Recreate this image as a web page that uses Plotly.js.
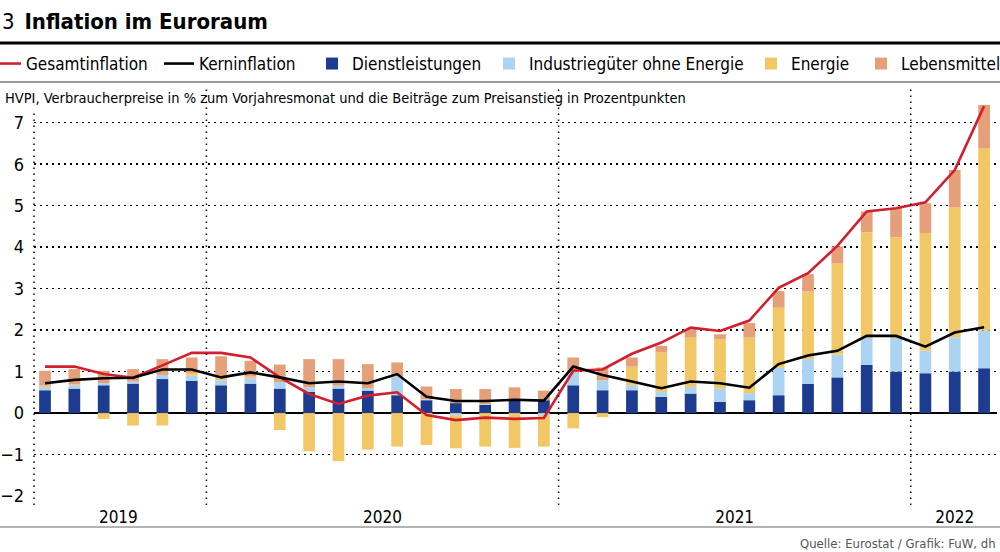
<!DOCTYPE html>
<html>
<head>
<meta charset="utf-8">
<script src="https://cdn.plot.ly/plotly-3.0.1.min.js"></script>
<style>
html,body{margin:0;padding:0;background:#fff;}
#chart{width:1000px;height:552px;}
</style>
</head>
<body>
<div id="chart"></div>
<script>
// Months (Jul 2019 – Mar 2022)
const months = [
  "2019-07","2019-08","2019-09","2019-10","2019-11","2019-12",
  "2020-01","2020-02","2020-03","2020-04","2020-05","2020-06",
  "2020-07","2020-08","2020-09","2020-10","2020-11","2020-12",
  "2021-01","2021-02","2021-03","2021-04","2021-05","2021-06",
  "2021-07","2021-08","2021-09","2021-10","2021-11","2021-12",
  "2022-01","2022-02","2022-03"
];
// Gesamtinflation (HVPI, % yoy)
const gesamt = [1.12,1.12,0.94,0.85,1.15,1.45, 1.45,1.34,0.86,0.46,0.22,0.42, 0.50,-0.05,-0.17,-0.11,-0.14,-0.12,
  1.02,1.05,1.43,1.70,2.06,1.98, 2.23,3.02,3.37,4.03,4.86,4.94, 5.08,5.86,7.40];
// Kerninflation
const kern = [0.72,0.80,0.84,0.85,1.05,1.05, 0.86,0.98,0.86,0.72,0.76,0.72, 0.94,0.39,0.29,0.29,0.32,0.30,
  1.12,0.92,0.76,0.60,0.76,0.72, 0.61,1.18,1.39,1.50,1.86,1.86, 1.60,1.94,2.07];
// Beiträge in Prozentpunkten
const dienst = [0.55,0.59,0.67,0.71,0.82,0.78, 0.67,0.71,0.59,0.51,0.59,0.54, 0.43,0.31,0.24,0.20,0.32,0.31,
  0.67,0.55,0.55,0.39,0.47,0.27, 0.31,0.43,0.70,0.86,1.16,1.00, 0.96,1.00,1.08];
const industrie = [0.08,0.08,0.05,0.05,0.10,0.12, 0.12,0.13,0.16,0.11,0.07,0.06, 0.45,0.02,-0.05,0.02,0.00,-0.05,
  0.31,0.24,0.12,0.12,0.16,0.32, 0.17,0.66,0.60,0.55,0.65,0.81, 0.55,0.83,0.91];
const energie = [0.03,0.02,-0.14,-0.30,-0.30,0.06, 0.10,0.04,-0.41,-0.92,-1.16,-0.88, -0.81,-0.77,-0.80,-0.81,-0.84,-0.76,
  -0.37,-0.10,0.45,0.95,1.19,1.19, 1.34,1.45,1.63,2.20,2.55,2.43, 2.83,3.13,4.40];
const lebensmittel = [0.36,0.37,0.30,0.30,0.38,0.38, 0.48,0.38,0.42,0.68,0.64,0.58, 0.34,0.31,0.34,0.36,0.30,0.23,
  0.36,0.31,0.22,0.16,0.20,0.12, 0.35,0.40,0.42,0.41,0.50,0.70, 0.72,0.90,1.04];
const yTicks = [-2,-1,0,1,2,3,4,5,6,7];

const FONT = "'Liberation Sans Narrow', 'DejaVu Sans Condensed', 'Arial Narrow', sans-serif";
const idx = months.map((m,i)=>i);

// year tick positions (centre of each year's months) and separators
const years = [...new Set(months.map(m=>m.slice(0,4)))];
const yearCenters = years.map(y=>{
  const ii = idx.filter(i=>months[i].startsWith(y));
  return (ii[0]+ii[ii.length-1])/2;
});
const separators = idx.filter(i=>i>0 && months[i].endsWith("-01")).map(i=>i-0.5);

const W=1000,H=552, mL=34, mR=3, mT=102, mB=56;
const plotH = H-mT-mB, plotW = W-mL-mR;
const py = px => (H-mB-px)/plotH;   // pixel y -> paper y
const pxX = px => (px-mL)/plotW;    // pixel x -> paper x

const DOT = "1.5px,4.5px";

function bar(name, y, color, leg){
  return {type:'bar', name, x:idx, y, marker:{color, line:{width:0}}, width:0.4,
    legend:leg, hoverinfo:'skip'};
}
const traces = [
  bar('Dienstleistungen', dienst, '#1d3c8f', 'legend3'),
  bar('Industriegüter ohne Energie', industrie, '#acd4f2', 'legend4'),
  bar('Energie', energie, '#f2c866', 'legend5'),
  bar('Lebensmittel', lebensmittel, '#e6a079', 'legend6'),
  {type:'scatter', mode:'lines', name:'Gesamtinflation', x:idx, y:gesamt,
    line:{color:'#d11f2e', width:2.6}, legend:'legend', hoverinfo:'skip'},
  {type:'scatter', mode:'lines', name:'Kerninflation', x:idx, y:kern,
    line:{color:'#000000', width:2.6}, legend:'legend2', hoverinfo:'skip'}
];

const shapes = [
  {type:'line', xref:'paper', yref:'paper', x0:pxX(0), x1:pxX(1000), y0:py(43), y1:py(43), line:{color:'#000', width:3}},
  {type:'line', xref:'paper', yref:'paper', x0:pxX(0), x1:pxX(1000), y0:py(82), y1:py(82), line:{color:'#9a9a9a', width:2}},
  {type:'line', xref:'paper', yref:'paper', x0:pxX(0), x1:pxX(1000), y0:py(527), y1:py(527), line:{color:'#9a9a9a', width:1.5}},
  {type:'line', xref:'paper', yref:'paper', x0:0, x1:0, y0:py(505), y1:py(112), line:{color:'#000', width:1.5, dash:DOT}}
];
separators.forEach(s=>shapes.push({type:'line', xref:'x', yref:'paper', x0:s, x1:s, y0:py(505), y1:py(88),
  line:{color:'#000', width:1.5, dash:DOT}}));

// legend text start positions (px) in the reference
const legendTextX = {legend:27, legend2:200, legend3:353, legend4:530, legend5:792, legend6:902};
function legendAt(textX){
  return {orientation:'h', xref:'paper', yref:'paper', x:pxX(textX-41), xanchor:'left', y:py(64), yanchor:'middle',
    font:{family:FONT, size:17, color:'#000'}, itemwidth:30, bgcolor:'rgba(0,0,0,0)', borderwidth:0};
}

const layout = {
  width:W, height:H,
  margin:{l:mL, r:mR, t:mT, b:mB, autoexpand:false},
  paper_bgcolor:'#fff', plot_bgcolor:'#fff',
  font:{family:FONT, color:'#000', size:17},
  barmode:'relative',
  title:{text:'3\u2002<b>Inflation im Euroraum</b>', font:{family:FONT, size:22, color:'#000'},
    xref:'container', x:0.002, xanchor:'left', yref:'container', y:1-21/H, yanchor:'middle'},
  showlegend:true,
  legend:legendAt(legendTextX.legend),
  legend2:legendAt(legendTextX.legend2),
  legend3:legendAt(legendTextX.legend3),
  legend4:legendAt(legendTextX.legend4),
  legend5:legendAt(legendTextX.legend5),
  legend6:legendAt(legendTextX.legend6),
  xaxis:{range:[-0.375, 32.44], tickmode:'array', tickvals:yearCenters, ticktext:years,
    showgrid:false, zeroline:false, showline:false, ticks:'', tickfont:{family:FONT, size:17},
    ticklabelstandoff:9, fixedrange:true},
  yaxis:{range:[-2,7.5], tickmode:'array', tickvals:yTicks, ticktext:yTicks.map(v=>v<0?'\u2212'+Math.abs(v):String(v)),
    showgrid:true, gridcolor:'#000', gridwidth:1.5, griddash:DOT,
    zeroline:true, zerolinecolor:'#000', zerolinewidth:2,
    showline:false, ticks:'', tickfont:{family:FONT, size:18}, ticklabelstandoff:9, fixedrange:true},
  shapes,
  annotations:[
    {text:'HVPI, Verbraucherpreise in % zum Vorjahresmonat und die Beiträge zum Preisanstieg in Prozentpunkten',
      xref:'paper', yref:'paper', x:pxX(3), y:py(98), xanchor:'left', yanchor:'middle', showarrow:false,
      font:{family:FONT, size:14.5, color:'#000'}},
    {text:'Quelle: Eurostat / Grafik: FuW, dh', xref:'paper', yref:'paper', x:pxX(998), y:py(543),
      xanchor:'right', yanchor:'middle', showarrow:false, font:{family:FONT, size:13, color:'#555'}}
  ]
};

Plotly.newPlot('chart', traces, layout, {staticPlot:true, displayModeBar:false});
</script>
</body>
</html>
